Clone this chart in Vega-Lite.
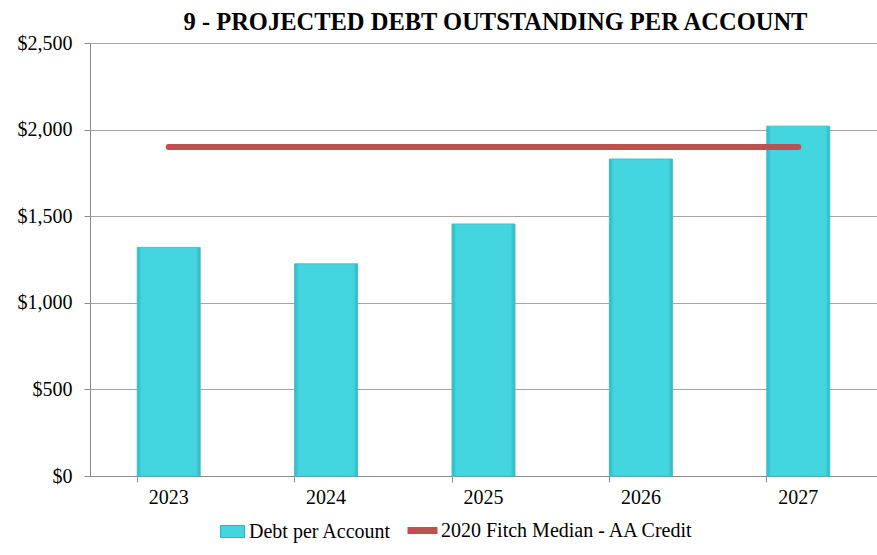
{
  "$schema": "https://vega.github.io/schema/vega-lite/v6.json",
  "width": 787,
  "height": 433,
  "autosize": {"type": "none"},
  "padding": {"left": 90, "top": 43, "right": 0, "bottom": 79},
  "background": "white",
  "config": {
    "font": "Liberation Serif",
    "view": {"stroke": null},
    "axis": {"labelFont": "Liberation Serif", "labelFontSize": 20, "labelColor": "black", "domainColor": "#8C8C8C", "tickColor": "#8C8C8C", "gridColor": "#A6A6A6", "titleFont": "Liberation Serif"},
    "legend": {"labelFont": "Liberation Serif", "labelFontSize": 20, "labelColor": "black", "title": null, "labelLimit": 400}
  },
  "title": {"text": "9 - PROJECTED DEBT OUTSTANDING PER ACCOUNT", "font": "Liberation Serif", "fontSize": 24.5, "fontWeight": "bold", "color": "black", "anchor": "middle", "offset": -2, "dx": 12},
  "data": {
    "values": [
      {"year": "2023", "debt": 1320, "median": 1900},
      {"year": "2024", "debt": 1225, "median": 1900},
      {"year": "2025", "debt": 1455, "median": 1900},
      {"year": "2026", "debt": 1830, "median": 1900},
      {"year": "2027", "debt": 2020, "median": 1900}
    ]
  },
  "layer": [
    {
      "mark": {"type": "bar", "fill": {"gradient": "linear", "x1": 0, "x2": 1, "y1": 0, "y2": 0, "stops": [{"offset": 0, "color": "#2FB5BF"}, {"offset": 0.07, "color": "#44D6E0"}, {"offset": 0.93, "color": "#44D6E0"}, {"offset": 1, "color": "#2FB5BF"}]}, "stroke": "#3BC4CE", "strokeWidth": 1},
      "encoding": {
        "x": {"field": "year", "type": "nominal", "scale": {"paddingInner": 0.6, "paddingOuter": 0.3}, "axis": {"title": null, "labelAngle": 0, "bandPosition": 0, "labelPadding": 5, "tickSize": 6, "grid": false}},
        "y": {"field": "debt", "type": "quantitative", "scale": {"domain": [0, 2500], "nice": false}, "axis": {"title": null, "values": [0, 500, 1000, 1500, 2000, 2500], "format": "$,.0f", "tickSize": 6, "labelPadding": 12, "grid": true}},
        "color": {"datum": "Debt per Account", "type": "nominal", "scale": {"range": ["#44D6E0"]}, "legend": {"orient": "none", "legendX": 130, "legendY": 476, "direction": "horizontal", "symbolType": "M-1,-0.5H1V0.5H-1Z", "symbolSize": 576, "symbolStrokeColor": "#2FB5BF", "symbolStrokeWidth": 1, "labelOffset": 4}}
      }
    },
    {
      "mark": {"type": "line", "strokeWidth": 6, "strokeCap": "round"},
      "encoding": {
        "x": {"field": "year", "type": "nominal"},
        "y": {"field": "median", "type": "quantitative", "scale": {"domain": [0, 2500], "nice": false}},
        "stroke": {"datum": "2020 Fitch Median - AA Credit", "type": "nominal", "scale": {"range": ["#C0504D"]}, "legend": {"orient": "none", "legendX": 314, "legendY": 469, "direction": "horizontal", "symbolType": "stroke", "symbolStrokeWidth": 7, "symbolSize": 900, "labelOffset": 0}}
      }
    }
  ]
}
